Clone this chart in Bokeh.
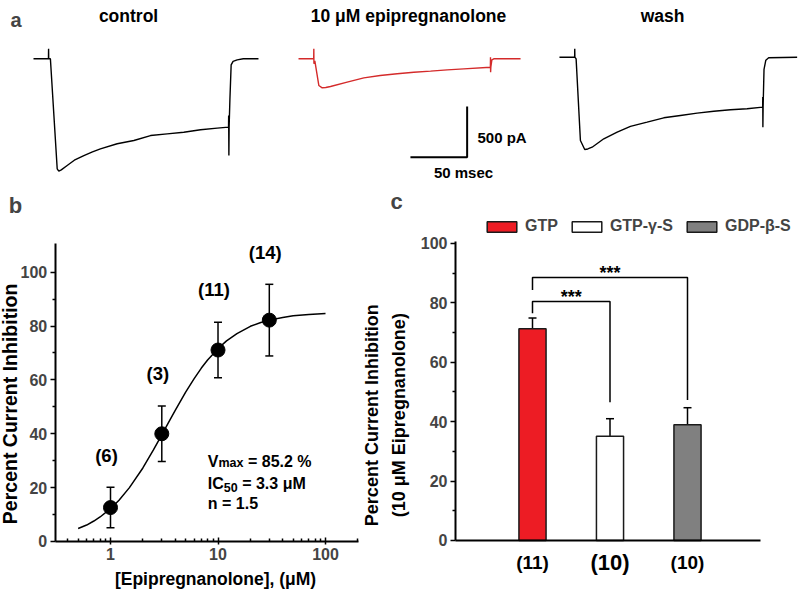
import math
from bokeh.plotting import figure
from bokeh.models import (ColumnDataSource, Range1d, FixedTicker, Whisker, TeeHead,
                          Label, PrintfTickFormatter)
from bokeh.layouts import column, row
from bokeh.embed import file_html
from bokeh.resources import INLINE
from bokeh.core.properties import value

FONT = "Liberation Sans"

# ---------------- data ----------------
# panel a: whole-cell current sweeps, time (ms) from sweep start, current (pA)
control_t = [0, 13.2, 13.3, 13.4, 14.9, 20.9, 22.3, 24.5, 29.7, 36, 44.4, 52, 59, 73.8, 88.5,
             103.2, 117.9, 132.5, 147.3, 162, 172.0, 172.1, 172.3, 172.5, 173.2, 174.3, 176,
             179.6, 185, 198.4]
control_i = [0, 0, 100, 0, 0, -1085, -1108, -1095, -1052, -1000, -954, -918, -888, -838, -806,
             -757, -740, -724, -700, -684, -674, -559, -954, -674, -400, -60, -25, -10, 0, 0]
epi_t = [0, 13.4, 13.5, 13.6, 14.4, 17.9, 20.9, 24, 28.2, 42.9, 57.6, 72, 87, 101.7, 116.4,
         131.1, 145.8, 169.2, 169.3, 169.4, 169.6, 170.5, 172.2, 195.8]
epi_i = [0, 0, 99, -49, -20, -263, -286, -283, -273, -230, -188, -165, -148, -132, -122,
         -109, -99, -83, 16, -132, -83, -10, 0, 0]
wash_t = [0, 13.4, 13.5, 13.6, 14.7, 18.5, 22.3, 25, 28.8, 39.1, 50.9, 62.6, 77.3, 92, 106.7,
          121.4, 136.1, 150.8, 165.5, 179.2, 179.3, 179.4, 179.6, 180.4, 182, 184.5, 209.6]
wash_i = [0, 0, 83, 0, -17, -822, -910, -905, -888, -805, -740, -683, -641, -598, -575,
          -552, -533, -519, -509, -493, -394, -690, -493, -120, -30, -6, 0]
trace_titles = ["control", "10 \u03bcM epipregnanolone", "wash"]
scale_ms = 50
scale_pA = 500

# panel b: concentration-response
conc = [1, 3, 10, 30]
inhib_mean = [12.6, 40.0, 71.1, 82.2]
inhib_sem = [7.5, 10.3, 10.3, 13.3]
n_cells_b = ["(6)", "(3)", "(11)", "(14)"]
fit_conc = [0.5, 0.6, 0.7, 0.8, 1, 1.2, 1.5, 2, 2.5, 3, 3.5, 4, 5, 6, 7, 8, 10, 12, 15,
            20, 25, 30, 40, 50, 70, 100]
fit_inhib = [4.8, 6.1, 7.6, 9.1, 12.2, 15.3, 20.0, 27.3, 33.9, 39.6, 44.5, 48.7, 55.5, 60.5,
             64.4, 67.4, 71.6, 74.5, 77.2, 79.9, 81.3, 82.2, 83.2, 83.8, 84.3, 84.7]
vmax_txt, ic50_txt, n_txt = "85.2 %", "3.3 \u03bcM", "1.5"

# panel c: G-protein dependence
conditions = ["GTP", "GTP-\u03b3-S", "GDP-\u03b2-S"]
bar_inhib = [71.3, 35.1, 39.0]
bar_sem = [3.6, 5.9, 5.7]
n_cells_c = ["(11)", "(10)", "(10)"]
sig_pairs = [(0, 1), (0, 2)]
sig_labels = ["***", "***"]

# ---------------- layout ----------------
W, H = 800, 591
H_TOP = 218
W_B = 362
W_C = W - W_B
H_BOT = H - H_TOP
NB = "\u00a0"


def style_text(**kw):
    d = dict(text_font=value(FONT), text_font_style="bold")
    d.update(kw)
    return d


def style_axis(ax, fs="16px"):
    ax.axis_line_width = 2
    ax.major_tick_line_width = 1.5
    ax.minor_tick_line_width = 1.5
    ax.major_label_text_font = FONT
    ax.major_label_text_font_style = "bold"
    ax.major_label_text_font_size = fs


# ---- panel a ----
pt = figure(width=W, height=H_TOP, x_range=Range1d(0, 705.47), y_range=Range1d(-1575, 575),
            x_axis_type=None, y_axis_type=None, min_border=0, toolbar_location=None,
            output_backend="svg", outline_line_color=None)
pt.grid.visible = False
offsets = [(29.1, 0.0, "black", control_t, control_i),
           (262.8, 0.0, "#d42a2a", epi_t, epi_i),
           (492.9, 16.0, "black", wash_t, wash_i)]
for x0, y0, col, tt, ii in offsets:
    pt.line([t + x0 for t in tt], [i + y0 for i in ii], line_color=col, line_width=1.4)
pt.text(x=[112.9, 359.8, 583.8], y=[427] * 3, text=trace_titles,
        **style_text(text_font_size="17.5px", text_align="center", text_baseline="middle"))
cx, cy = 411.5, -970
pt.line([cx - scale_ms, cx, cx], [cy, cy, cy + scale_pA], line_color="black", line_width=2)
pt.text(x=[cx + 9.1], y=[cy + 194], text=[f"{scale_pA} pA"],
        **style_text(text_font_size="15px", text_align="left", text_baseline="middle"))
pt.text(x=[cx - 3.2], y=[cy - 151], text=[f"{scale_ms} msec"],
        **style_text(text_font_size="15px", text_align="center", text_baseline="middle"))
for letter, lx, ly, base in [("a", 15.5, H_TOP - 19, "alphabetic"),
                             ("b", 15, H_TOP - 205, "middle"),
                             ("c", 396, H_TOP - 201, "middle")]:
    pt.add_layout(Label(x=lx, y=ly, x_units="screen", y_units="screen", text=letter,
                        text_font=FONT, text_font_style="bold",
                        text_font_size="20px" if letter == "a" else "22px",
                        text_align="center", text_baseline=base))

# ---- panel b ----
pb = figure(width=W_B, height=H_BOT, x_axis_type="log", x_range=Range1d(0.0948, 220.8),
            y_range=Range1d(-18.57, 119.94), min_border=0, toolbar_location=None,
            output_backend="svg", outline_line_color=None)
pb.grid.visible = False
pb.line(fit_conc, fit_inhib, line_color="black", line_width=1.5)
src_b = ColumnDataSource(dict(conc=conc, mean=inhib_mean,
                              lo=[m - e for m, e in zip(inhib_mean, inhib_sem)],
                              hi=[m + e for m, e in zip(inhib_mean, inhib_sem)]))
pb.add_layout(Whisker(base="conc", lower="lo", upper="hi", source=src_b, line_width=1.5,
                      upper_head=TeeHead(size=8, line_width=1.5),
                      lower_head=TeeHead(size=8, line_width=1.5)))
pb.scatter("conc", "mean", source=src_b, size=14, color="black")
pb.text(x=conc, y=[m + e + 12 for m, e in zip(inhib_mean, inhib_sem)], text=n_cells_b,
        x_offset=-4, **style_text(text_font_size="18.5px", text_align="center",
                                  text_baseline="middle"))

# fit parameter block
fx = 8.04
fy = [26.4, 18.3, 10.9]
main_fs, sub_fs = 16, 12.5
pb.text(x=[fx], y=[fy[0]], text=["V"], **style_text(text_font_size=f"{main_fs}px"))
pb.text(x=[fx], y=[fy[0]], text=["max"], x_offset=0.667 * main_fs,
        **style_text(text_font_size=f"{sub_fs}px"))
pb.text(x=[fx], y=[fy[0]], text=[NB + "= " + vmax_txt], x_offset=0.667 * main_fs + 2.0 * sub_fs,
        **style_text(text_font_size=f"{main_fs}px"))
pb.text(x=[fx], y=[fy[1]], text=["IC"], **style_text(text_font_size=f"{main_fs}px"))
pb.text(x=[fx], y=[fy[1]], text=["50"], x_offset=1.0 * main_fs,
        **style_text(text_font_size=f"{sub_fs}px"))
pb.text(x=[fx], y=[fy[1]], text=[NB + "= " + ic50_txt], x_offset=1.0 * main_fs + 1.112 * sub_fs,
        **style_text(text_font_size=f"{main_fs}px"))
pb.text(x=[fx], y=[fy[2]], text=["n = " + n_txt], **style_text(text_font_size=f"{main_fs}px"))

xb, yb = pb.xaxis[0], pb.yaxis[0]
style_axis(xb)
style_axis(yb)
xb.fixed_location = 0
xb.bounds = (0.306, 202.8)
xb.ticker = FixedTicker(ticks=[1, 10, 100],
                        minor_ticks=[0.4, 0.5, 0.6, 0.7, 0.8, 0.9, 2, 3, 4, 5, 6, 7, 8, 9,
                                     20, 30, 40, 50, 60, 70, 80, 90, 200])
xb.formatter = PrintfTickFormatter(format="%d")
xb.major_tick_in = 4
xb.major_tick_out = 3
xb.minor_tick_in = 3
xb.minor_tick_out = 0
xb.major_label_standoff = 4
yb.fixed_location = 0.306
yb.bounds = (0, 110.7)
yb.ticker = FixedTicker(ticks=[0, 20, 40, 60, 80, 100], minor_ticks=[10, 30, 50, 70, 90])
yb.major_tick_in = 0
yb.major_tick_out = 5
yb.minor_tick_in = 0
yb.minor_tick_out = 3
yb.major_label_standoff = 3
pb.text(x=[0.1174], y=[51.1], text=["Percent Current Inhibition"], angle=math.pi / 2,
        **style_text(text_font_size="19.5px", text_align="center", text_baseline="middle"))
pb.text(x=[9.48], y=[-13.9], text=["[Epipregnanolone], (\u03bcM)"],
        **style_text(text_font_size="17.5px", text_align="center", text_baseline="middle"))

# ---- panel c ----
pc = figure(width=W_C, height=H_BOT, x_range=Range1d(-1.1935, 4.458),
            y_range=Range1d(-17.17, 108.4), min_border=0, toolbar_location=None,
            output_backend="svg", outline_line_color=None)
pc.grid.visible = False
xpos = [1, 2, 3]
src_c = ColumnDataSource(dict(x=xpos, top=bar_inhib, cond=conditions,
                              upper=[v + e for v, e in zip(bar_inhib, bar_sem)],
                              color=["#ed1c24", "#ffffff", "#808080"]))
pc.vbar(x="x", top="top", width=0.35, source=src_c, fill_color="color", line_color="#1a1a1a",
        line_width=1.5, legend_field="cond")
pc.add_layout(Whisker(base="x", lower="top", upper="upper", source=src_c, line_width=1.5,
                      upper_head=TeeHead(size=8, line_width=1.5), lower_head=None))
br_top = [80.5, 88.5]
br_left = [76.5, 84.3]
br_right = [46.5, 47.3]
xs, ys = [], []
for (a, b), t, l, r in zip(sig_pairs, br_top, br_left, br_right):
    xs.append([xpos[a], xpos[a], xpos[b], xpos[b]])
    ys.append([l, t, t, r])
pc.multi_line(xs=xs, ys=ys, line_color="black", line_width=1.5)
pc.text(x=[(xpos[a] + xpos[b]) / 2 for a, b in sig_pairs], y=[t + 1.5 for t in br_top],
        text=sig_labels, **style_text(text_font_size="18px", text_align="center",
                                      text_baseline="middle"))
for xv, lab, fs in zip(xpos, n_cells_c, ["19px", "22px", "19px"]):
    pc.text(x=[xv], y=[-7.4], text=[lab],
            **style_text(text_font_size=fs, text_align="center", text_baseline="middle"))
leg = pc.legend[0]
leg.orientation = "horizontal"
leg.location = (121, 356)
leg.padding = 0
leg.margin = 0
leg.spacing = 10
leg.glyph_width = 37
leg.glyph_height = 13
leg.label_height = 13
leg.label_standoff = 5
leg.label_text_font = FONT
leg.label_text_font_style = "bold"
leg.label_text_font_size = "16px"
leg.border_line_color = None
leg.background_fill_alpha = 0

ya, xa = pc.yaxis[0], pc.xaxis[0]
style_axis(ya)
style_axis(xa)
ya.fixed_location = 0.006
ya.bounds = (0, 100.5)
ya.ticker = FixedTicker(ticks=[0, 20, 40, 60, 80, 100], minor_ticks=[10, 30, 50, 70, 90])
ya.major_tick_in = 0
ya.major_tick_out = 5
ya.minor_tick_in = 0
ya.minor_tick_out = 3
ya.major_label_standoff = 3
xa.fixed_location = 0
xa.bounds = (0.006, 3.94)
xa.ticker = FixedTicker(ticks=[])
xa.major_tick_out = 0
xa.major_tick_in = 0
xa.minor_tick_out = 0
xa.minor_tick_in = 0
xa.major_label_text_font_size = "0px"
pc.text(x=[-1.071, -0.7226], y=[42.2, 42.2],
        text=["Percent Current Inhibition", "(10 \u03bcM Eipregnanolone)"], angle=math.pi / 2,
        **style_text(text_font_size="18px", text_align="center", text_baseline="middle"))

layout = column(pt, row(pb, pc))
open("out.html", "w").write(file_html(layout, INLINE))
